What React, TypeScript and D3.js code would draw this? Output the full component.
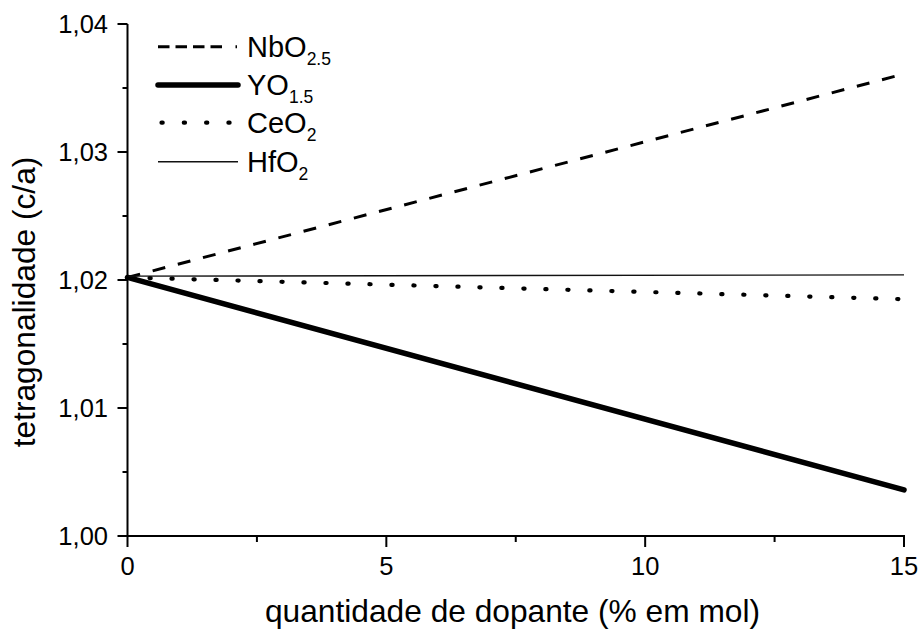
import React from 'react';
import * as d3 from 'd3';

const doses = [0, 15];
const nbValues = [1.0202, 1.0361];
const yoValues = [1.0202, 1.0036];
const ceValues = [1.0202, 1.0185];
const hfValues = [1.0203, 1.0204];

const seriesNames = ['NbO', 'YO', 'CeO', 'HfO'];
const seriesSubs = ['2.5', '1.5', '2', '2'];

const yTicks = [1.0, 1.01, 1.02, 1.03, 1.04];
const yMinorTicks = [1.005, 1.015, 1.025, 1.035];
const xTicks = [0, 5, 10, 15];
const xMinorTicks = [2.5, 7.5, 12.5];

const xTitle = 'quantidade de dopante (% em mol)';
const yTitle = 'tetragonalidade (c/a)';

const FONT = '"Liberation Sans", Arial, Helvetica, sans-serif';

export default function App() {
  const W = 921;
  const H = 629;
  const x = d3.scaleLinear().domain([0, 15]).range([127.5, 904]);
  const y = d3.scaleLinear().domain([1.0, 1.04]).range([536, 24]);

  const line = d3
    .line<[number, number]>()
    .x((d) => x(d[0]))
    .y((d) => y(d[1]));

  const series = [nbValues, yoValues, ceValues, hfValues];
  const styles = [
    { stroke: '#000', width: 3, dash: '13 13', cap: 'butt', legendDash: '11.5 6 11.5 6 11.5 6 11.5 13.5 1.5 60' },
    { stroke: '#000', width: 5.5, dash: undefined, cap: 'round', legendDash: undefined },
    { stroke: '#000', width: 4.2, dash: '1.2 20.8', cap: 'round', legendDash: '1.2 21.1' },
    { stroke: '#111', width: 1.4, dash: undefined, cap: 'butt', legendDash: undefined },
  ];

  const fmtY = (v: number) => v.toFixed(2).replace('.', ',');

  const legendY = [46.7, 85, 122.7, 161.7];

  return (
    <svg
      width={W}
      height={H}
      style={{ position: 'absolute', left: 0, top: 0, background: '#fff' }}
      fontFamily={FONT}
    >
      <rect x={0} y={0} width={W} height={H} fill="#fff" />
      {series.map((vals, i) => {
        const pts = doses.map((d, j) => [d, vals[j]] as [number, number]);
        const s = styles[i];
        return (
          <path
            key={'s' + i}
            d={line(pts) || ''}
            fill="none"
            stroke={s.stroke}
            strokeWidth={s.width}
            strokeDasharray={s.dash}
            strokeLinecap={s.cap as any}
          />
        );
      })}

      <line x1={x(0)} x2={x(0)} y1={y(1.04)} y2={y(1.0) + 1} stroke="#000" strokeWidth={2} />
      <line x1={x(0) - 1} x2={x(15) + 1} y1={y(1.0)} y2={y(1.0)} stroke="#000" strokeWidth={2} />
      {yTicks.map((t) => (
        <g key={'yt' + t}>
          <line x1={x(0) - 10} x2={x(0)} y1={y(t)} y2={y(t)} stroke="#000" strokeWidth={2} />
          <text x={108} y={y(t) + 8.9} textAnchor="end" fontSize={25.5}>
            {fmtY(t)}
          </text>
        </g>
      ))}
      {yMinorTicks.map((t) => (
        <line key={'ym' + t} x1={x(0) - 5} x2={x(0)} y1={y(t)} y2={y(t)} stroke="#000" strokeWidth={2} />
      ))}
      {xTicks.map((t) => (
        <g key={'xt' + t}>
          <line x1={x(t)} x2={x(t)} y1={y(1.0)} y2={y(1.0) + 11} stroke="#000" strokeWidth={2} />
          <text x={x(t)} y={574.5} textAnchor="middle" fontSize={25.5}>
            {String(t)}
          </text>
        </g>
      ))}
      {xMinorTicks.map((t) => (
        <line key={'xm' + t} x1={x(t)} x2={x(t)} y1={y(1.0)} y2={y(1.0) + 6} stroke="#000" strokeWidth={2} />
      ))}

      <text x={512.5} y={622} textAnchor="middle" fontSize={31.7}>
        {xTitle}
      </text>
      <text transform="translate(35,302) rotate(-90)" textAnchor="middle" fontSize={31.7}>
        {yTitle}
      </text>

      {seriesNames.map((name, i) => {
        const s = styles[i];
        const ly = legendY[i];
        return (
          <g key={'lg' + i}>
            <line
              x1={i === 2 ? 161.5 : 158}
              x2={238}
              y1={ly}
              y2={ly}
              stroke={s.stroke}
              strokeWidth={s.width}
              strokeDasharray={s.legendDash}
              strokeLinecap={s.cap as any}
            />
            <text x={247} y={ly + 10} fontSize={29}>
              {name}
              <tspan fontSize={17.5} dy={8}>
                {seriesSubs[i]}
              </tspan>
            </text>
          </g>
        );
      })}
    </svg>
  );
}
